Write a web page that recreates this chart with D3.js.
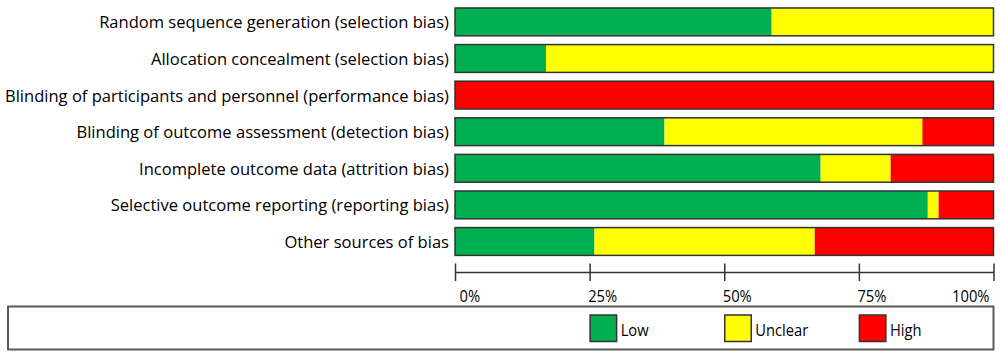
<!DOCTYPE html>
<html>
<head>
<meta charset="utf-8">
<script src="https://cdn.jsdelivr.net/npm/d3@7"></script>
<style>
  html, body { margin: 0; padding: 0; background: #fff; }
  svg { display: block; }
  text { font-family: "Open Sans", "Liberation Sans", sans-serif; fill: #000; }
</style>
</head>
<body>
<svg id="chart" width="1000" height="357"></svg>
<script>
// ---- data ----
const categories = [
  "Random sequence generation (selection bias)",
  "Allocation concealment (selection bias)",
  "Blinding of participants and personnel (performance bias)",
  "Blinding of outcome assessment (detection bias)",
  "Incomplete outcome data (attrition bias)",
  "Selective outcome reporting (reporting bias)",
  "Other sources of bias"
];
const lowValues     = [58.8, 16.9, 0,   38.9, 67.9, 87.8, 25.9];
const unclearValues = [41.2, 83.1, 0,   47.9, 13.0,  2.0, 40.9];
const highValues    = [0,    0,    100, 13.2, 19.1, 10.2, 33.2];
const seriesNames   = ["Low", "Unclear", "High"];
const seriesColors  = ["#00B050", "#FFFF00", "#FF0000"];
const tickValues    = [0, 25, 50, 75, 100];
const tickLabels    = ["0%", "25%", "50%", "75%", "100%"];

// ---- build ----
const svg = d3.select("#chart");
const rows = categories.map((c, i) => ({
  cat: c, Low: lowValues[i], Unclear: unclearValues[i], High: highValues[i]
}));
const stacked = d3.stack().keys(seriesNames)(rows);

const x = d3.scaleLinear().domain([0, 100]).range([455, 993.5]);
const y = d3.scaleBand().domain(categories).range([3.6, 259.8])
  .paddingInner(0.24).paddingOuter(0.12);
const color = d3.scaleOrdinal().domain(seriesNames).range(seriesColors);

// segments
svg.append("g").selectAll("g").data(stacked).join("g")
  .attr("fill", d => color(d.key))
  .selectAll("rect").data(d => d).join("rect")
  .attr("x", d => x(d[0]))
  .attr("y", d => y(d.data.cat))
  .attr("width", d => Math.max(0, x(d[1]) - x(d[0])))
  .attr("height", y.bandwidth());

// bar outlines
svg.append("g").selectAll("rect").data(categories).join("rect")
  .attr("x", x(0))
  .attr("y", d => y(d))
  .attr("width", x(100) - x(0))
  .attr("height", y.bandwidth())
  .attr("fill", "none")
  .attr("stroke", "#333")
  .attr("stroke-width", 1.5);

// category labels
const labG = svg.append("g");
const labs = labG.selectAll("text").data(categories).join("text")
  .attr("x", 449)
  .attr("y", d => y(d) + y.bandwidth() / 2 + 6.5)
  .attr("text-anchor", "end")
  .style("font-size", "17px")
  .text(d => d);
// compress horizontally to match the reference width of the longest label
let maxW = 0;
labs.each(function () { maxW = Math.max(maxW, this.getComputedTextLength()); });
const f = 444 / maxW;
labs.each(function () {
  const w = this.getComputedTextLength();
  d3.select(this).attr("textLength", w * f).attr("lengthAdjust", "spacingAndGlyphs");
});

// axis
const axisY = 272;
const axG = svg.append("g").attr("transform", `translate(0,${axisY})`);
axG.call(d3.axisBottom(x).tickValues(tickValues).tickSize(0).tickFormat(""));
axG.select(".domain").attr("stroke", "#333").attr("stroke-width", 1.5);
axG.selectAll(".tick").append("line")
  .attr("y1", -8.5).attr("y2", 9)
  .attr("stroke", "#333").attr("stroke-width", 1.5);
axG.selectAll(".tick text").remove();
const tl = svg.append("g").selectAll("text").data(tickValues).join("text")
  .attr("x", (d, i) => i === 0 ? x(d) + 4.5 : (i === tickValues.length - 1 ? x(d) - 4 : x(d) - 1.5))
  .attr("y", 302)
  .attr("text-anchor", (d, i) => i === tickValues.length - 1 ? "end" : "start")
  .style("font-size", "16px")
  .text((d, i) => tickLabels[i]);
tl.each(function () {
  const w = this.getComputedTextLength();
  d3.select(this).attr("textLength", w * 0.92).attr("lengthAdjust", "spacingAndGlyphs");
});

// legend box
svg.append("rect")
  .attr("x", 8).attr("y", 306.5)
  .attr("width", 985.5).attr("height", 43)
  .attr("fill", "#fff").attr("stroke", "#595959").attr("stroke-width", 2);

const legendX = [25, 50, 75];
const lg = svg.append("g").selectAll("g").data(seriesNames).join("g")
  .attr("transform", (d, i) => `translate(${x(legendX[i])},315)`);
lg.append("rect")
  .attr("x", 0.5).attr("y", 0)
  .attr("width", 26.5).attr("height", 26.5)
  .attr("fill", d => color(d))
  .attr("stroke", "#333").attr("stroke-width", 1.5);
lg.append("text")
  .attr("x", 31).attr("y", 20.5)
  .style("font-size", "16px")
  .text(d => d)
  .each(function () {
    const w = this.getComputedTextLength();
    d3.select(this).attr("textLength", w * 0.92).attr("lengthAdjust", "spacingAndGlyphs");
  });
</script>
</body>
</html>
